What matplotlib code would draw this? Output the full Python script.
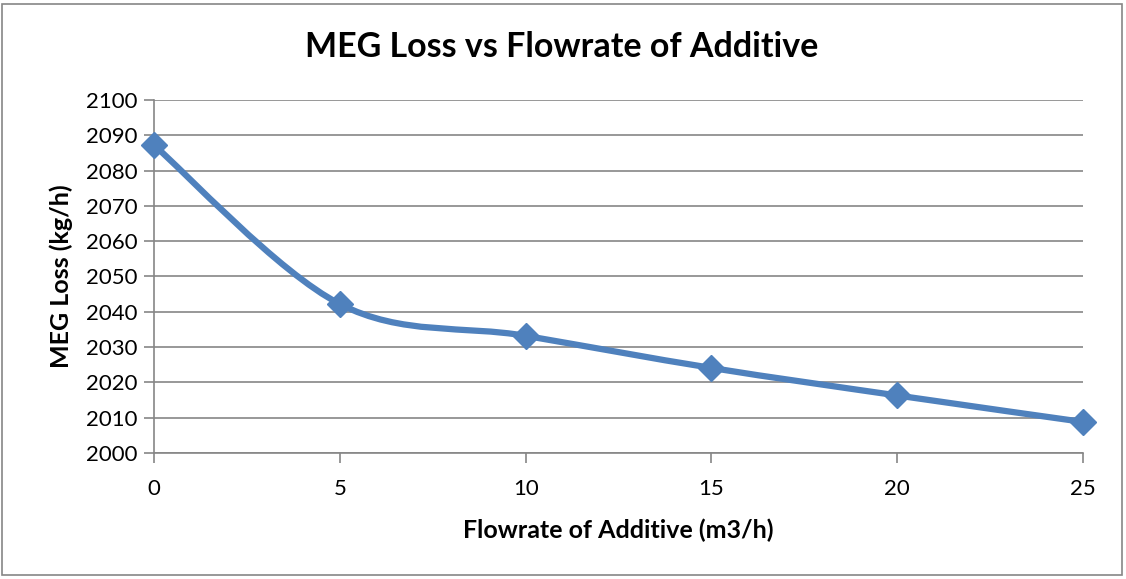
import matplotlib
matplotlib.use("Agg")
import matplotlib.pyplot as plt
import numpy as np
from matplotlib.path import Path
from matplotlib.patches import PathPatch, Rectangle

# 读图得到的数据
flowrate = [0, 5, 10, 15, 20, 25]
meg_loss = [2087.2, 2042.2, 2033.2, 2024.1, 2016.3, 2008.8]
y_ticks = list(range(2000, 2101, 10))

title = "MEG Loss vs Flowrate of Additive"
x_label = "Flowrate of Additive (m3/h)"
y_label = "MEG Loss (kg/h)"

line_color = "#4F81BD"
grid_color = "#868686"

plt.rcParams['font.family'] = ['Lato', 'DejaVu Sans']


# Excel 风格的平滑曲线（贝塞尔）
def smooth_path(xs, ys):
    pts = np.column_stack([xs, ys]).astype(float)
    n = len(pts)
    verts = [pts[0]]
    codes = [Path.MOVETO]
    for i in range(n - 1):
        p0 = pts[i - 1] if i > 0 else pts[i]
        p1 = pts[i]
        p2 = pts[i + 1]
        p3 = pts[i + 2] if i + 2 < n else pts[i + 1]
        c1 = p1 + (p2 - p0) / 6.0
        c2 = p2 - (p3 - p1) / 6.0
        verts += [c1, c2, p2]
        codes += [Path.CURVE4] * 3
    return Path(verts, codes)


fig = plt.figure(figsize=(11.26, 5.79), dpi=100)
ax = fig.add_axes([154 / 1126, 1 - 453 / 579, (1083 - 154) / 1126, (453 - 100) / 579])

ax.add_patch(PathPatch(smooth_path(flowrate, meg_loss), facecolor='none',
                       edgecolor=line_color, lw=4.5, capstyle='round', zorder=3))
ax.plot(flowrate, meg_loss, linestyle='none', marker='D', markersize=13,
        color=line_color, zorder=4, clip_on=False)

ax.set_xlim(0, 25)
ax.set_ylim(2000, 2100)
ax.set_xticks(flowrate)
ax.set_yticks(y_ticks)
ax.yaxis.grid(True, color=grid_color, lw=1.2)
ax.set_axisbelow(True)
for s in ['top', 'right']:
    ax.spines[s].set_visible(False)
for s in ['left', 'bottom']:
    ax.spines[s].set_color(grid_color)
    ax.spines[s].set_linewidth(1.2)
ax.tick_params(axis='both', colors=grid_color, length=7, width=1.2,
               labelsize=16, labelcolor='black')
ax.tick_params(axis='y', pad=5)
ax.tick_params(axis='x', pad=12)

ax.set_xlabel(x_label, fontsize=18, fontweight='bold', labelpad=14)
ax.set_ylabel(y_label, fontsize=18, fontweight='bold', labelpad=9)
fig.text(562 / 1126, 1 - 47 / 579, title, fontsize=24.5, fontweight='bold',
         ha='center', va='center')

# 外框
fig.patches.append(Rectangle((2 / 1126, 4 / 579), 1120 / 1126, 571 / 579,
                             transform=fig.transFigure, fill=False,
                             edgecolor=grid_color, lw=1.2))

fig.savefig("out.png", dpi=100)
